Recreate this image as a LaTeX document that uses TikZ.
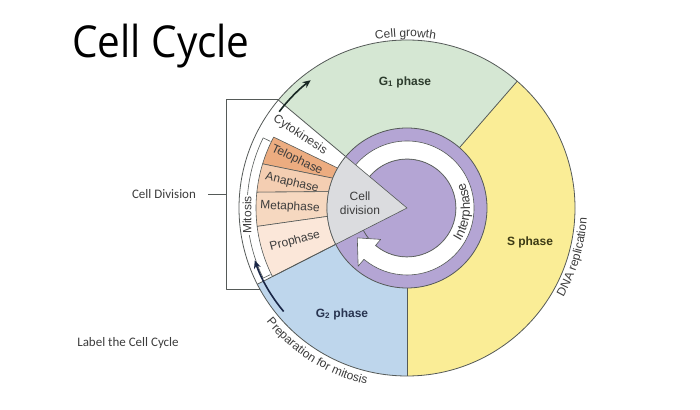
\documentclass[tikz,border=0pt]{standalone}
\usepackage{fontspec}
\setmainfont{Liberation Sans}
\newfontfamily\carlito{Carlito}
\newfontfamily\titlefont{Open Sans}
\usetikzlibrary{decorations.text,arrows.meta}
\definecolor{gone}{RGB}{213,231,211}
\definecolor{sph}{RGB}{250,237,150}
\definecolor{gtwo}{RGB}{190,214,236}
\definecolor{telo}{RGB}{236,172,128}
\definecolor{ana}{RGB}{244,206,178}
\definecolor{meta}{RGB}{246,216,192}
\definecolor{pro}{RGB}{251,231,217}
\definecolor{purp}{RGB}{180,165,212}
\definecolor{wedgec}{RGB}{219,220,223}
\definecolor{edge}{RGB}{85,90,88}
\definecolor{txt}{RGB}{60,60,60}
\definecolor{gtxt}{RGB}{45,60,45}
\definecolor{stxt}{RGB}{60,58,20}
\definecolor{btxt}{RGB}{40,52,80}
\definecolor{arrA}{RGB}{25,40,36}
\definecolor{arrB}{RGB}{25,38,70}
\begin{document}
\begin{tikzpicture}[x=1pt,y=1pt,line join=round,
  lbl/.style={font=\fontsize{12}{14}\selectfont,text=txt,inner sep=0pt},
  phlbl/.style={font=\fontsize{12}{14}\selectfont\bfseries,inner sep=0pt},
  outline/.style={draw=edge,line width=0.8pt},
  thin/.style={draw=edge,line width=0.6pt},
  cycarrow/.style={line width=1.6pt,-{Stealth[length=8pt,width=7pt]}},
  bracket/.style={draw=edge,line width=0.7pt},
  note/.style={font=\carlito\fontsize{13}{15}\selectfont,text=txt,inner sep=0pt}]
\useasboundingbox (0,0) rectangle (700,409);
\fill[white] (0,0) rectangle (700,409);

\begin{scope}[shift={(407,201)}]
 % outer sectors
 \fill[gone] (0,0) -- (49:168pt) arc[start angle=49,end angle=140,radius=168pt] -- cycle;
 \fill[sph] (0,0) -- (-90:168pt) arc[start angle=-90,end angle=49,radius=168pt] -- cycle;
 \fill[gtwo] (0,0) -- (207:168pt) arc[start angle=207,end angle=270,radius=168pt] -- cycle;
 \fill[white] (0,0) -- (140:168pt) arc[start angle=140,end angle=207,radius=168pt] -- cycle;
 % mitosis phases
 \path[fill=telo,thin] (152:151pt) arc[start angle=152,end angle=163,radius=151pt] -- (158:79pt) -- (150:79pt) -- cycle;
 \path[fill=ana,thin] (163:151pt) arc[start angle=163,end angle=174,radius=151pt] -- (168:79pt) -- (158:79pt) -- cycle;
 \path[fill=meta,thin] (174:151pt) arc[start angle=174,end angle=187,radius=151pt] -- (186:79pt) -- (168:79pt) -- cycle;
 \path[fill=pro,thin] (187:151pt) arc[start angle=187,end angle=207,radius=151pt] -- (207:79pt) -- (186:79pt) -- cycle;
 % boundaries
 \draw[outline] (0,0) circle[radius=168pt];
 \draw[outline] (49:80pt) -- (49:168pt);
 \draw[outline] (270:80pt) -- (270:168pt);
 \draw[outline] (140:80pt) -- (140:168pt);
 \draw[outline] (207:80pt) -- (207:168pt);
 % interphase rings
 \path[fill=purp,outline] (0,0) circle[radius=80pt];
 \path[fill=purp,outline] (0,0) circle[radius=49pt];
 \path[fill=white,thin] (150:67pt) arc[start angle=150,end angle=-130,radius=67pt]
   -- (-130:76pt) -- (-149:58pt) -- (-130:41pt) -- (-130:49pt)
   arc[start angle=-130,end angle=150,radius=49pt] -- cycle;
 % cell division wedge
 \path[fill=wedgec,thin] (0,0) -- (140:80pt) arc[start angle=140,end angle=207,radius=80pt] -- cycle;
 % mitosis bracket
 \draw[thin] (154:152pt) -- (154:160pt) arc[start angle=154,end angle=206,radius=160pt] -- (206:152pt);
 % cycle arrows
 \draw[cycarrow,arrA] (143:160pt) arc[start angle=143,end angle=127,radius=160pt];
 \draw[cycarrow,arrB] (220:161pt) arc[start angle=220,end angle=199,radius=161pt];
 % curved labels
 \path[decorate,decoration={text along path,text align=center,text color=txt,
   text={|\fontsize{12}{14}\selectfont|Cell growth}}]
   (106:171pt) arc[start angle=106,end angle=75,radius=171pt];
 \path[decorate,decoration={text along path,text align=center,text color=txt,
   text={|\fontsize{12}{14}\selectfont|DNA replication}}]
   (-42:180pt) arc[start angle=-42,end angle=9,radius=180pt];
 \path[decorate,decoration={text along path,text align=center,text color=txt,
   text={|\fontsize{12}{14}\selectfont|Preparation for mitosis}}]
   (208:181pt) arc[start angle=208,end angle=268,radius=181pt];
 \path[decorate,decoration={text along path,text align=center,text color=txt,
   text={|\fontsize{13}{15}\selectfont|Interphase}}]
   (-55:63pt) arc[start angle=-55,end angle=47,radius=63pt];
\end{scope}

% straight labels
\node[phlbl,text=gtxt] (g1) at (405,327) {G\textsubscript{1} phase};
\node[phlbl,text=stxt] (s) at (530,167) {S phase};
\node[phlbl,text=btxt] (g2) at (342,95) {G\textsubscript{2} phase};
\node[lbl,align=center,font=\fontsize{12}{14}\selectfont] (cdiv) at (360,206) {Cell\\division};
\node[lbl,rotate=-33] (cyto) at (300,274) {Cytokinesis};
\node[lbl,rotate=-25] (telo) at (297,249) {Telophase};
\node[lbl,rotate=-13] (ana) at (292,226) {Anaphase};
\node[lbl,rotate=-3] (meta) at (290,202) {Metaphase};
\node[lbl,rotate=15] (pro) at (295,168) {Prophase};
\node[lbl,rotate=90,fill=white,inner sep=1pt] (mit) at (247,194) {Mitosis};

% title and notes
\node[inner sep=0pt] (title) at (161,363) {\titlefont\fontsize{44}{50}\selectfont\scalebox{0.92}[1]{Cell Cycle}};
\node[note] (cd) at (164,215) {Cell Division};
\node[note] (lab) at (128,66) {Label the Cell Cycle};

% cell division bracket
\coordinate (bt0) at (279,310);
\coordinate (bt) at (226,310);
\coordinate (bb) at (226,120);
\coordinate (bb0) at (260,120);
\coordinate (bm) at (226,215);
\draw[bracket] (bt0) -- (bt) -- (bb) -- (bb0);
\draw[bracket] ([xshift=12pt]cd.east) -- (bm);
\end{tikzpicture}
\end{document}
